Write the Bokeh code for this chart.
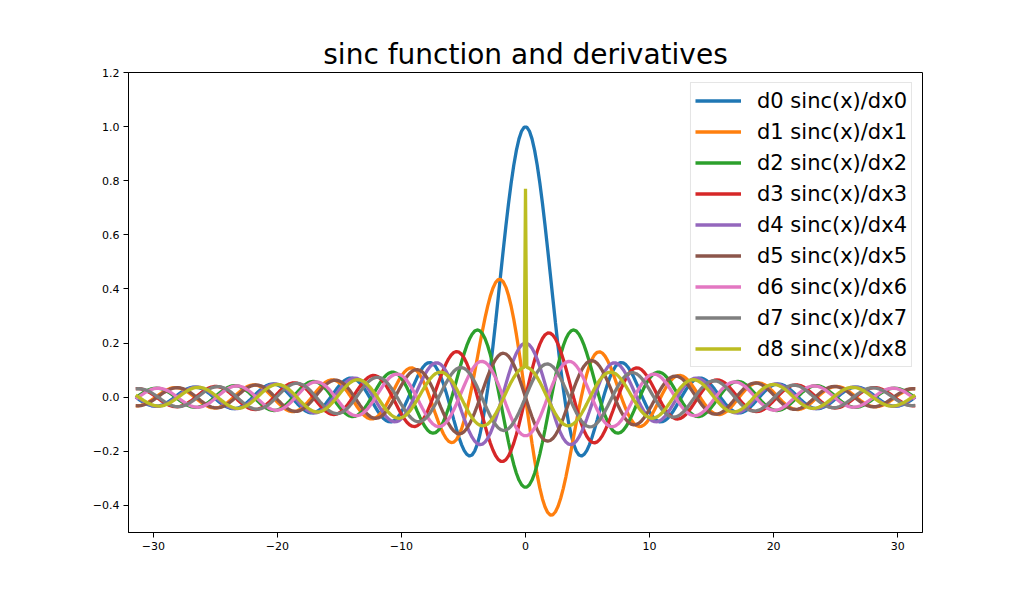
import numpy as np
from math import factorial, comb
from bokeh.plotting import figure
from bokeh.models import Range1d, FixedTicker, CustomJSTickFormatter
from bokeh.embed import file_html
from bokeh.resources import INLINE

# ---- chart content ----
title_text = "sinc function and derivatives"
orders = [0, 1, 2, 3, 4, 5, 6, 7, 8]
labels = ["d0 sinc(x)/dx0", "d1 sinc(x)/dx1", "d2 sinc(x)/dx2", "d3 sinc(x)/dx3",
          "d4 sinc(x)/dx4", "d5 sinc(x)/dx5", "d6 sinc(x)/dx6", "d7 sinc(x)/dx7",
          "d8 sinc(x)/dx8"]
colors = ["#1f77b4", "#ff7f0e", "#2ca02c", "#d62728", "#9467bd",
          "#8c564b", "#e377c2", "#7f7f7f", "#bcbd22"]
x_ticks = [-30, -20, -10, 0, 10, 20, 30]
y_ticks = [-0.4, -0.2, 0.0, 0.2, 0.4, 0.6, 0.8, 1.0, 1.2]
x_start, x_end = -10 * np.pi, 10 * np.pi   # sampled domain of the curves
n_samples = 300
# the d8 curve in the reference shows a numerical spike at x = 0 reaching ~0.77
d8_spike_x = 0.0
d8_spike_y = 0.77

# curves: the n-th derivatives of sinc(x) = sin(x)/x named in the title
x = np.linspace(x_start, x_end, n_samples)


def sinc_derivative(xv, n):
    out = np.empty_like(xv)
    small = np.abs(xv) < 1.0
    xs = xv[~small]
    total = np.zeros_like(xs)
    for k in range(n + 1):
        total += (comb(n, k) * np.sin(xs + k * np.pi / 2) * (-1) ** (n - k)
                  * factorial(n - k) / xs ** (n - k + 1))
    out[~small] = total
    xs = xv[small]
    s = np.zeros_like(xs)
    for k in range(40):
        p = 2 * k
        if p < n:
            continue
        s += (-1) ** k * factorial(p) / factorial(p - n) * xs ** (p - n) / factorial(p + 1)
    out[small] = s
    return out


series = {n: sinc_derivative(x, n) for n in orders}

# ---- figure ----
p = figure(width=1008, height=581, output_backend="svg", toolbar_location=None,
           x_range=Range1d(-32, 32), y_range=Range1d(-0.5, 1.2),
           min_border_left=128, min_border_right=86, min_border_top=72,
           min_border_bottom=49, background_fill_color="white",
           border_fill_color="white")

p.title.text = title_text
p.title.align = "center"
p.title.text_font = "DejaVu Sans"
p.title.text_font_size = "28px"
p.title.text_font_style = "normal"
p.title.text_color = "black"
p.title.standoff = 4

p.xgrid.visible = False
p.ygrid.visible = False
p.outline_line_color = "black"
p.outline_line_width = 1
p.outline_line_alpha = 1.0

for ax in (p.xaxis[0], p.yaxis[0]):
    ax.axis_line_color = "black"
    ax.major_tick_line_color = "black"
    ax.minor_tick_line_color = None
    ax.major_tick_out = 5
    ax.major_tick_in = 0
    ax.major_label_text_font = "DejaVu Sans"
    ax.major_label_text_font_size = "11px"
    ax.major_label_text_color = "black"
    ax.major_label_standoff = 4

p.xaxis.ticker = FixedTicker(ticks=x_ticks)
p.yaxis.ticker = FixedTicker(ticks=y_ticks)
p.xaxis.formatter = CustomJSTickFormatter(
    code="return (tick < 0 ? '\u2212' : '') + Math.abs(tick).toFixed(0);")
p.yaxis.formatter = CustomJSTickFormatter(
    code="var t = Math.abs(tick) < 1e-9 ? 0 : tick; return (t < 0 ? '\u2212' : '') + Math.abs(t).toFixed(1);")

for n, lab, col in zip(orders, labels, colors):
    xs, ys = x, series[n]
    if n == 8:
        i = int(np.searchsorted(x, d8_spike_x))
        xs = np.insert(x, i, d8_spike_x)
        ys = np.insert(ys, i, d8_spike_y)
    p.line(xs, ys, line_color=col, line_width=3.3, legend_label=lab)

lg = p.legend[0]
lg.location = "top_right"
lg.margin = 10
lg.padding = 4
lg.spacing = 4
lg.label_height = 27
lg.glyph_height = 27
lg.glyph_width = 46
lg.label_standoff = 16
lg.label_text_font = "DejaVu Sans"
lg.label_text_font_size = "21px"
lg.label_text_color = "black"
lg.border_line_color = "#cccccc"
lg.border_line_width = 1
lg.background_fill_color = "white"
lg.background_fill_alpha = 0.8

open("out.html", "w").write(file_html(p, INLINE))
